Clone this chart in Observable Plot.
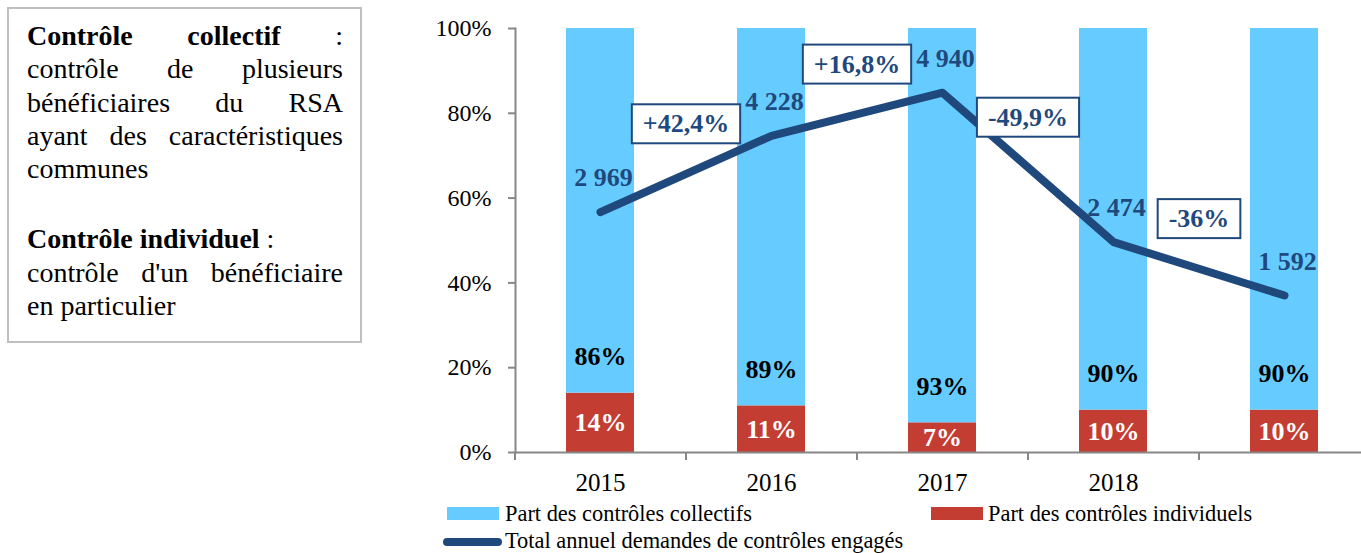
<!DOCTYPE html>
<html lang="fr">
<head>
<meta charset="utf-8">
<script src="https://cdn.jsdelivr.net/npm/d3@7"></script>
<script src="https://cdn.jsdelivr.net/npm/@observablehq/plot@0.6"></script>
<style>
  html, body { margin: 0; padding: 0; background: #fff; overflow: hidden; width: 1361px; height: 553px; }
  body { position: relative; font-family: "Liberation Serif", "Times New Roman", serif; color: #000; }
  #chart { position: absolute; left: 0; top: 0; width: 1361px; height: 553px; overflow: hidden; }
  #chart svg { max-width: none !important; }
  #note {
    position: absolute; left: 7px; top: 7px; width: 355px; height: 336px; box-sizing: border-box;
    border: 2px solid #bfbfbf; padding: 10px 17px 0 18px; font-size: 28px; line-height: 33.3px; background: #fff;
  }
  #note .j { text-align: justify; text-align-last: justify; }
  #note .gap { height: 37px; }
  .leg { position: absolute; font-size: 22.4px; line-height: 22px; white-space: nowrap; }
  .sw { position: absolute; }
</style>
</head>
<body>
<div id="chart"></div>
<div id="note">
  <div class="j"><b>Contrôle collectif</b> :</div>
  <div class="j">contrôle de plusieurs</div>
  <div class="j">bénéficiaires du RSA</div>
  <div class="j">ayant des caractéristiques</div>
  <div>communes</div>
  <div class="gap"></div>
  <div><b>Contrôle individuel</b> :</div>
  <div class="j">contrôle d'un bénéficiaire</div>
  <div>en particulier</div>
</div>
<div id="legend"></div>
<script>
// ---- Data ----
const years = ["2015", "2016", "2017", "2018", "2019"];
const xTickLabels = ["2015", "2016", "2017", "2018", ""];
const partCollectifs = [86, 89, 93, 90, 90];
const partIndividuels = [14, 11, 7, 10, 10];
const totalDemandes = [2969, 4228, 4940, 2474, 1592];
const evolutionLabels = ["+42,4%", "+16,8%", "-49,9%", "-36%"];
const yTicks = [0, 20, 40, 60, 80, 100];
const secondaryDomain = [-1000, 6000];
const seriesNames = ["Part des contrôles collectifs", "Part des contrôles individuels", "Total annuel demandes de contrôles engagés"];

const colCollectif = "#66CCFF";
const colIndividuel = "#C43D33";
const colLine = "#1F497D";
const axisGray = "#878787";

const fr = d3.formatLocale({decimal: ",", thousands: "\u00a0", grouping: [3], currency: ["", " €"]});
const fmtNum = fr.format(",d");

// secondary (hidden) axis mapped onto the 0–100 % primary axis
const sec = d3.scaleLinear().domain(secondaryDomain).range([0, 100]);

const bars = years.flatMap((y, i) => [
  {year: y, type: "ind", value: partIndividuels[i]},
  {year: y, type: "col", value: partCollectifs[i]}
]);
const lineData = years.map((y, i) => ({year: y, v: totalDemandes[i], pos: sec(totalDemandes[i])}));
const changes = evolutionLabels.map((t, i) => ({
  year: years[i], label: t, pos: (lineData[i].pos + lineData[i + 1].pos) / 2
}));
const labelData = years.map((y, i) => ({year: y, ind: partIndividuels[i], col: partCollectifs[i]}));

const W = 1370, marginLeft = 515, marginRight = 0;
const step = (W - marginLeft - marginRight) / years.length;
const serif = "Liberation Serif";

const chart = Plot.plot({
  width: W, height: 500,
  marginLeft, marginRight, marginTop: 28, marginBottom: 48,
  style: {fontFamily: serif, background: "transparent", color: "#000", overflow: "visible", maxWidth: "none"},
  x: {domain: years, paddingInner: 0.6, paddingOuter: 0.3, label: null},
  y: {domain: [0, 100], label: null},
  color: {domain: ["ind", "col"], range: [colIndividuel, colCollectif]},
  marks: [
    Plot.barY(bars, {x: "year", y: "value", fill: "type", order: ["ind", "col"]}),
    Plot.frame({anchor: "left", stroke: axisGray, strokeWidth: 2}),
    Plot.frame({anchor: "bottom", stroke: axisGray, strokeWidth: 2}),
    Plot.axisY({ticks: yTicks, tickFormat: d => d + "%", tickSize: 7, tickPadding: 17, fontSize: 24, stroke: axisGray, strokeWidth: 2, label: null}),
    Plot.axisX({ticks: years, tickSize: 8, tickFormat: () => "", dx: -step / 2, stroke: axisGray, strokeWidth: 2, label: null}),
    Plot.axisX({ticks: years, tickSize: 0, tickPadding: 21, fontSize: 25, tickFormat: d => xTickLabels[years.indexOf(d)], label: null}),
    // bar labels
    Plot.text(labelData, {x: "year", y: d => d.ind / 2, text: d => d.ind + "%", fill: "#fff", fontSize: 26, fontWeight: "bold"}),
    Plot.text(labelData, {x: "year", y: "ind", dy: -36, text: d => d.col + "%", fill: "#000", fontSize: 26, fontWeight: "bold"}),
    // line
    Plot.line(lineData, {x: "year", y: "pos", stroke: colLine, strokeWidth: 8, strokeLinecap: "round", strokeLinejoin: "round"}),
    Plot.text(lineData, {x: "year", y: "pos", dy: -34, dx: 3, text: d => fmtNum(d.v), fill: colLine, fontSize: 26, fontWeight: "bold"}),
    // change boxes
    Plot.text(changes, {x: "year", y: "pos", dx: step / 2, dy: -50, text: "label", fill: colLine, fontSize: 26, fontWeight: "bold"})
  ]
});
document.getElementById("chart").appendChild(chart);

// boxes behind the change labels
Array.from(chart.querySelectorAll("text"))
  .filter(t => evolutionLabels.includes(t.textContent))
  .forEach(t => {
    const b = t.getBBox();
    const r = document.createElementNS("http://www.w3.org/2000/svg", "rect");
    r.setAttribute("x", b.x - 11);
    r.setAttribute("y", b.y - 5);
    r.setAttribute("width", b.width + 22);
    r.setAttribute("height", b.height + 10);
    r.setAttribute("fill", "#fff");
    r.setAttribute("stroke", colLine);
    r.setAttribute("stroke-width", 2);
    const tr = t.getAttribute("transform");
    if (tr) r.setAttribute("transform", tr);
    t.parentNode.insertBefore(r, t);
  });

// legend (HTML, below the plot area)
const legend = document.getElementById("legend");
function add(html) { legend.insertAdjacentHTML("beforeend", html); }
add(`<div class="sw" style="left:447px;top:507px;width:52px;height:13px;background:${colCollectif}"></div>`);
add(`<div class="leg" style="left:505px;top:503px">${seriesNames[0]}</div>`);
add(`<div class="sw" style="left:931px;top:507px;width:52px;height:13px;background:${colIndividuel}"></div>`);
add(`<div class="leg" style="left:988px;top:503px">${seriesNames[1]}</div>`);
add(`<div class="sw" style="left:443px;top:538px;width:59px;height:8px;border-radius:4px;background:${colLine}"></div>`);
add(`<div class="leg" style="left:505px;top:530px">${seriesNames[2]}</div>`);
</script>
</body>
</html>
